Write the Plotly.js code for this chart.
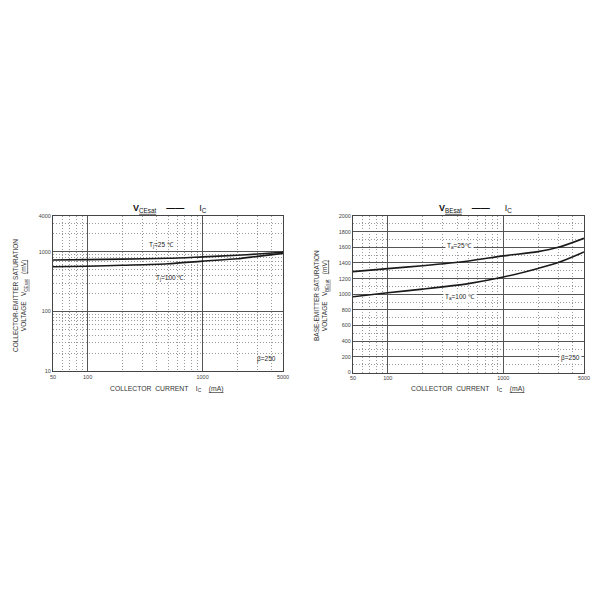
<!DOCTYPE html>
<html><head><meta charset="utf-8">
<script src="https://cdn.plot.ly/plotly-3.0.1.min.js"></script>
<style>html,body{margin:0;padding:0;background:#fff}#c{width:600px;height:600px}</style>
</head><body><div id="c"></div>
<script>
// Data
const currents = [50, 100, 200, 500, 1000, 2000, 3000, 5000];
const vce25 = [730, 740, 755, 780, 825, 875, 920, 985];
const vce100 = [563, 575, 595, 630, 700, 765, 840, 945];
const vbe25 = [1289, 1328, 1365, 1425, 1490, 1545, 1600, 1715];
const vbe100 = [968, 1020, 1065, 1136, 1220, 1330, 1405, 1540];

const xTicks = [50, 100, 1000, 5000];
const xTickText = ['50', '100', '1000', '5000'];
const xMinor = [60, 70, 80, 90, 200, 300, 400, 500, 600, 700, 800, 900, 2000, 3000, 4000];
const yLogTicks = [10, 100, 1000, 4000];
const yLogTickText = ['10', '100', '1000', '4000'];
const yLogMinor = [20, 30, 40, 50, 60, 70, 80, 90, 200, 300, 400, 500, 600, 700, 800, 900, 2000, 3000];

const F = 'Liberation Sans, Arial, sans-serif';
const lineStyle = {color: '#1a1a1a', width: 1.6, shape: 'spline', smoothing: 0.8};
const DOT = '1px,2px';
const MINC = '#9a9a9a';

const traces = [
  {x: currents, y: vce25, xaxis: 'x', yaxis: 'y', mode: 'lines', line: lineStyle},
  {x: currents, y: vce100, xaxis: 'x', yaxis: 'y', mode: 'lines', line: lineStyle},
  {x: currents, y: vbe25, xaxis: 'x2', yaxis: 'y2', mode: 'lines', line: lineStyle},
  {x: currents, y: vbe100, xaxis: 'x2', yaxis: 'y2', mode: 'lines', line: lineStyle}
];

function xAxis(domain, anchor) {
  return {
    type: 'log', domain: domain, anchor: anchor,
    range: [Math.log10(50), Math.log10(5000)],
    tickvals: xTicks, ticktext: xTickText,
    showgrid: true, gridcolor: '#555', gridwidth: 1,
    minor: {tickvals: xMinor, showgrid: true, gridcolor: MINC, griddash: DOT, gridwidth: 1, ticks: ''},
    showline: true, linecolor: '#444', linewidth: 1, mirror: true,
    ticks: '', zeroline: false,
    tickfont: {family: F, size: 5.5, color: '#444'}
  };
}

const U = s => '<span style="text-decoration:underline">' + s + '</span>';

const layout = {
  width: 600, height: 600,
  margin: {l: 0, r: 0, t: 0, b: 0},
  paper_bgcolor: '#fff', plot_bgcolor: '#fff',
  showlegend: false,
  xaxis: xAxis([53/600, 283/600], 'y'),
  yaxis: {
    type: 'log', domain: [1 - 371/600, 1 - 216/600], anchor: 'x',
    range: [1, Math.log10(4000)],
    tickvals: yLogTicks, ticktext: yLogTickText,
    showgrid: true, gridcolor: '#555', gridwidth: 1,
    minor: {tickvals: yLogMinor, showgrid: true, gridcolor: MINC, griddash: DOT, gridwidth: 1, ticks: ''},
    showline: true, linecolor: '#444', linewidth: 1, mirror: true,
    ticks: '', zeroline: false,
    tickfont: {family: F, size: 5.5, color: '#444'}
  },
  xaxis2: xAxis([353/600, 584/600], 'y2'),
  yaxis2: {
    type: 'linear', domain: [1 - 372.5/600, 1 - 216/600], anchor: 'x2',
    range: [0, 2000], dtick: 200, tick0: 0,
    showgrid: true, gridcolor: '#555', gridwidth: 1,
    minor: {dtick: 100, showgrid: true, gridcolor: MINC, griddash: DOT, gridwidth: 1, ticks: ''},
    showline: true, linecolor: '#444', linewidth: 1, mirror: true,
    ticks: '', zeroline: false,
    tickfont: {family: F, size: 5.5, color: '#444'}
  },
  annotations: [
    // titles
    {xref: 'paper', yref: 'paper', x: 170/600, y: 1 - 208/600, xanchor: 'center', yanchor: 'middle', showarrow: false,
     text: '<b>V</b><sub>' + U('CEsat') + '</sub>    <b>——</b>      I<sub>C</sub>',
     font: {family: F, size: 9, color: '#111'}},
    {xref: 'paper', yref: 'paper', x: 475/600, y: 1 - 208/600, xanchor: 'center', yanchor: 'middle', showarrow: false,
     text: '<b>V</b><sub>' + U('BEsat') + '</sub>    <b>——</b>      I<sub>C</sub>',
     font: {family: F, size: 9, color: '#111'}},
    // x titles
    {xref: 'paper', yref: 'paper', x: 166/600, y: 1 - 389/600, xanchor: 'center', yanchor: 'middle', showarrow: false,
     text: 'COLLECTOR  CURRENT    I<sub>C</sub>    ' + U('(mA)'),
     font: {family: F, size: 6.8, color: '#333'}},
    {xref: 'paper', yref: 'paper', x: 467/600, y: 1 - 389/600, xanchor: 'center', yanchor: 'middle', showarrow: false,
     text: 'COLLECTOR  CURRENT    I<sub>C</sub>    ' + U('(mA)'),
     font: {family: F, size: 6.8, color: '#333'}},
    // y titles
    {xref: 'paper', yref: 'paper', x: 20/600, y: 1 - 296/600, xanchor: 'center', yanchor: 'middle', showarrow: false, textangle: -90,
     text: 'COLLECTOR-EMITTER SATURATION<br>VOLTAGE   V<sub>' + U('CEsat') + '</sub>   ' + U('(mV)'),
     font: {family: F, size: 6.5, color: '#333'}},
    {xref: 'paper', yref: 'paper', x: 321/600, y: 1 - 296/600, xanchor: 'center', yanchor: 'middle', showarrow: false, textangle: -90,
     text: 'BASE-EMITTER SATURATION<br>VOLTAGE   V<sub>' + U('BEsat') + '</sub>   ' + U('(mV)'),
     font: {family: F, size: 6.5, color: '#333'}},
    // curve labels left
    {xref: 'x', yref: 'y', x: Math.log10(440), y: Math.log10(1280), xanchor: 'center', showarrow: false,
     text: 'T<sub>j</sub>=25 ℃', font: {family: F, size: 6.5, color: '#222'}},
    {xref: 'x', yref: 'y', x: Math.log10(520), y: Math.log10(370), xanchor: 'center', showarrow: false,
     text: 'T<sub>j</sub>=100 ℃', font: {family: F, size: 6.5, color: '#222'}},
    {xref: 'x', yref: 'y', x: Math.log10(3600), y: Math.log10(16), xanchor: 'center', showarrow: false,
     text: 'β=250', font: {family: F, size: 6.5, color: '#222'}},
    // curve labels right
    {xref: 'x2', yref: 'y2', x: Math.log10(420), y: 1620, xanchor: 'center', showarrow: false,
     text: 'T<sub>a</sub>=25℃', font: {family: F, size: 6.5, color: '#222'}, bgcolor: '#fff'},
    {xref: 'x2', yref: 'y2', x: Math.log10(420), y: 960, xanchor: 'center', showarrow: false,
     text: 'T<sub>a</sub>=100 ℃', font: {family: F, size: 6.5, color: '#222'}, bgcolor: '#fff'},
    {xref: 'x2', yref: 'y2', x: Math.log10(3800), y: 180, xanchor: 'center', showarrow: false,
     text: 'β=250', font: {family: F, size: 6.5, color: '#222'}, bgcolor: '#fff'}
  ]
};

Plotly.newPlot('c', traces, layout, {staticPlot: true, displayModeBar: false});
</script>
</body></html>
